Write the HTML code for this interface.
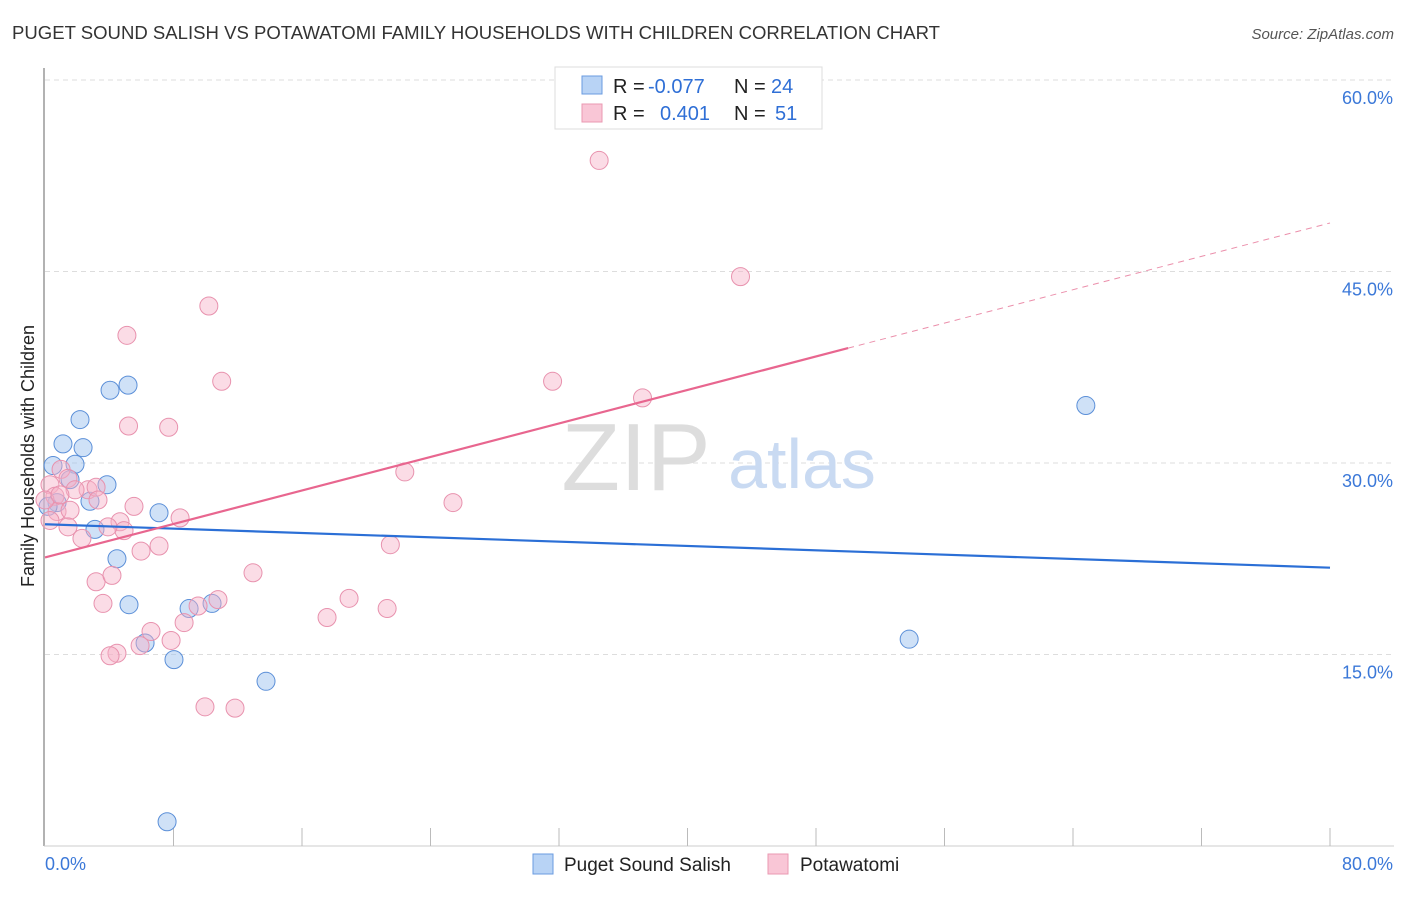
<!DOCTYPE html>
<html><head><meta charset="utf-8"><style>
body{margin:0;background:#fff;font-family:"Liberation Sans",sans-serif;}
svg text{font-family:"Liberation Sans",sans-serif;}
</style></head><body>
<svg id="chart" width="1406" height="892" xmlns="http://www.w3.org/2000/svg">
<text x="12" y="39" font-size="18" fill="#333" textLength="928" lengthAdjust="spacingAndGlyphs">PUGET SOUND SALISH VS POTAWATOMI FAMILY HOUSEHOLDS WITH CHILDREN CORRELATION CHART</text>
<text x="1394" y="39" font-size="15" fill="#555" font-style="italic" text-anchor="end">Source: ZipAtlas.com</text>
<text transform="translate(34,456) rotate(-90)" font-size="18" fill="#222" text-anchor="middle">Family Households with Children</text>
<g id="grid"></g>
<g><text x="636" y="490" font-size="96" font-family="Liberation Serif" fill="#ddd" text-anchor="middle">ZIP</text><text x="802" y="488" font-size="70" fill="#c9daf2" text-anchor="middle">atlas</text></g>
<g id="axes"></g>
<g id="pts"></g>
<g id="trends"></g>
<g font-size="20">
<rect x="555" y="67" width="267" height="62" fill="#fff" stroke="#ddd"/>
<rect x="582" y="76" width="20" height="18" fill="#b8d3f5" stroke="#6a9be0"/>
<rect x="582" y="104" width="20" height="18" fill="#f9c6d6" stroke="#ea98b2"/>
<text x="613" y="93" fill="#222">R =</text><text x="648" y="93" fill="#2f6fd6">-0.077</text>
<text x="734" y="93" fill="#222">N =</text><text x="771" y="93" fill="#2f6fd6">24</text>
<text x="613" y="120" fill="#222">R =</text><text x="660" y="120" fill="#2f6fd6">0.401</text>
<text x="734" y="120" fill="#222">N =</text><text x="775" y="120" fill="#2f6fd6">51</text>
</g>
<g>
<rect x="533" y="854" width="20" height="20" fill="#b8d3f5" stroke="#6a9be0"/>
<text x="564" y="871" font-size="19" fill="#222">Puget Sound Salish</text>
<rect x="768" y="854" width="20" height="20" fill="#f9c6d6" stroke="#ea98b2"/>
<text x="800" y="871" font-size="19" fill="#222">Potawatomi</text>
</g>
</svg>
<script>
const xTicks=[0,80];
const yTicks=[15,30,45,60];
const blueX=[0.5,1.12,1.87,2.37,2.18,1.56,0.75,2.8,3.11,3.86,4.05,5.17,4.48,5.23,6.23,7.1,8.03,8.97,10.4,13.76,7.6,53.8,64.8,0.19];
const blueY=[29.8,31.5,29.9,31.2,33.4,28.7,26.9,27.0,24.8,28.3,35.7,36.1,22.5,18.9,15.9,26.1,14.6,18.6,19.0,12.9,1.9,16.2,34.5,26.6];
const pinkX=[34.5,43.3,10.2,5.1,11.0,31.6,37.2,5.2,7.7,22.4,1.0,1.43,0.31,0.62,2.68,3.18,3.3,5.54,8.41,25.4,0.75,1.56,4.67,4.92,3.92,1.43,2.3,7.1,5.98,21.5,3.18,4.17,12.95,3.61,10.77,9.53,18.93,21.3,17.56,8.66,6.6,7.85,5.92,4.48,4.05,9.96,11.83,0,0.31,1.87,0.93];
const pinkY=[53.7,44.6,42.3,40.0,36.4,36.4,35.1,32.9,32.8,29.3,29.5,28.8,28.3,27.4,27.9,28.1,27.1,26.6,25.7,26.9,26.2,26.3,25.4,24.7,25.0,25.0,24.1,23.5,23.1,23.6,20.7,21.2,21.4,19.0,19.3,18.8,19.4,18.6,17.9,17.5,16.8,16.1,15.7,15.1,14.9,10.9,10.8,27.1,25.5,27.9,27.5];
const blueTrend=[[0,25.2],[80,21.8]];
const pinkTrend=[[0,22.6],[50,39.0]];
const pinkTrendExt=[[50,39.0],[80,48.8]];
const sx=v=>45+v*(1285/80);
const sy=v=>846-v*(766/60);
const NS='http://www.w3.org/2000/svg';
function mk(tag,attrs,parent){const e=document.createElementNS(NS,tag);for(const k in attrs)e.setAttribute(k,attrs[k]);document.getElementById(parent).appendChild(e);return e;}
yTicks.forEach(t=>{
 const l=mk('line',{x1:45,x2:1394,y1:sy(t),y2:sy(t),stroke:'#ddd','stroke-dasharray':'5,4'},'grid');
 
 
 const tx=mk('text',{x:1393,y:sy(t)+24,'font-size':18,fill:'#3b78d8','text-anchor':'end'},'grid');
 tx.textContent=t.toFixed(1)+'%';
 
 
});
mk('line',{x1:44,x2:44,y1:68,y2:846,stroke:'#999','stroke-width':1.5},'axes');
mk('line',{x1:44,x2:1394,y1:846,y2:846,stroke:'#ccc'},'axes');
for(let i=1;i<=10;i++){const v=i*8;const l=mk('line',{x1:sx(v),x2:sx(v),y1:828,y2:846,stroke:'#bbb'},'axes');
 
 }
xTicks.forEach((t,i)=>{const tx=mk('text',{x:i?1393:45,y:870,'font-size':18,fill:'#3b78d8','text-anchor':i?'end':'start'},'axes');
 tx.textContent=t.toFixed(1)+'%';
 
 });
blueX.forEach((x,i)=>{const c=mk('circle',{cx:sx(x),cy:sy(blueY[i]),r:9,fill:'rgba(160,195,240,0.5)',stroke:'#5b8fd8','stroke-width':1},'pts');
 
 });
pinkX.forEach((x,i)=>{const c=mk('circle',{cx:sx(x),cy:sy(pinkY[i]),r:9,fill:'rgba(246,178,200,0.45)',stroke:'#e892ae','stroke-width':1},'pts');
 
 });
let l1=mk('line',{x1:sx(blueTrend[0][0]),y1:sy(blueTrend[0][1]),x2:sx(blueTrend[1][0]),y2:sy(blueTrend[1][1]),stroke:'#2b6fd6','stroke-width':2.2},'trends');


let l2=mk('line',{x1:sx(pinkTrend[0][0]),y1:sy(pinkTrend[0][1]),x2:sx(pinkTrend[1][0]),y2:sy(pinkTrend[1][1]),stroke:'#e8668f','stroke-width':2.2},'trends');


let l3=mk('line',{x1:sx(pinkTrendExt[0][0]),y1:sy(pinkTrendExt[0][1]),x2:sx(pinkTrendExt[1][0]),y2:sy(pinkTrendExt[1][1]),stroke:'#eb8fab','stroke-width':1,'stroke-dasharray':'6,5'},'trends');


</script>
</body></html>
